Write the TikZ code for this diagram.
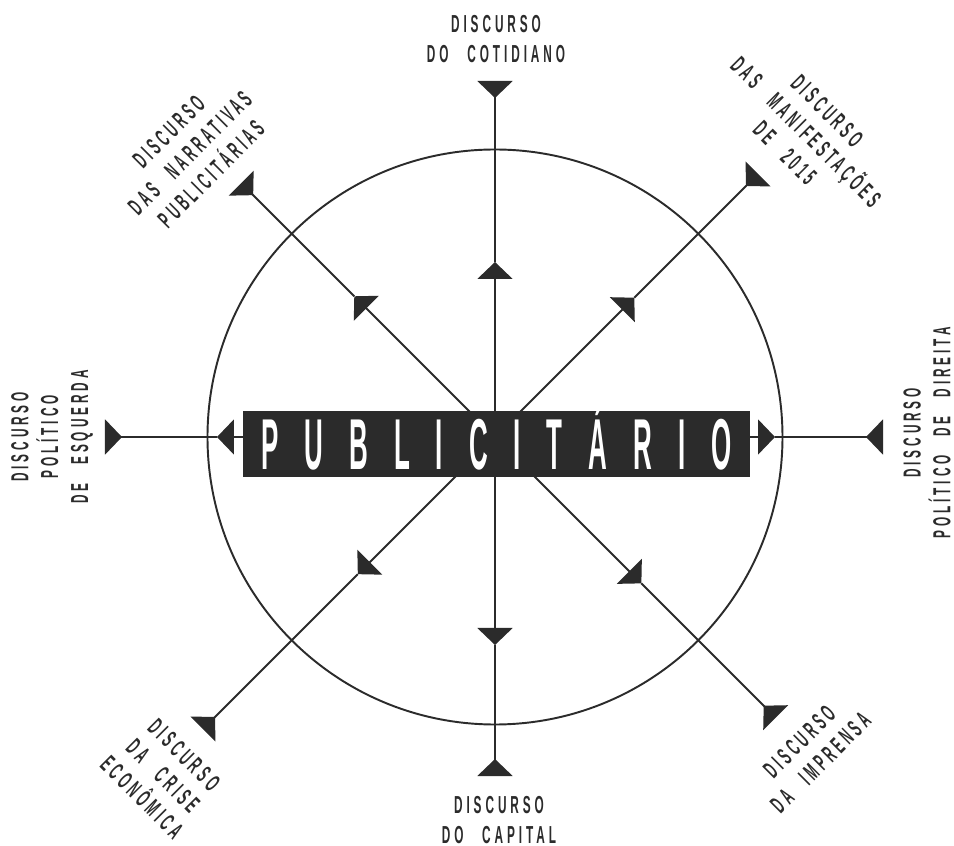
\documentclass[tikz,border=0pt]{standalone}
\usepackage{fontspec}
\setmainfont{Liberation Sans}
\newfontfamily\labelfont[FakeStretch=0.48,LetterSpace=16,WordSpace=2.6]{Liberation Sans}
\newfontfamily\titlefont[FakeStretch=0.36,LetterSpace=36]{Liberation Sans}
\usepackage{tikz}
\usetikzlibrary{arrows.meta}
\definecolor{inkgray}{HTML}{2B2B2B}
\tikzset{
  spoke/.style={
    draw=inkgray,
    line width=1.1pt,
    -{Triangle[length=3.4mm,width=7mm]}
  },
  spokeend/.style={
    draw=inkgray,
    line width=1.1pt,
    -{Triangle[reversed,length=3.4mm,width=7mm]}
  },
  discurso/.style={
    align=center,
    text=inkgray,
    inner sep=0pt,
    font=\labelfont\bfseries\fontsize{14}{17}\selectfont
  },
  titlebox/.style={
    fill=inkgray,
    text=white,
    minimum width=10.14cm,
    minimum height=1.32cm,
    inner sep=0pt,
    text height=29.5pt,
    text depth=0pt,
    font=\titlefont\bfseries\fontsize{41}{41}\selectfont
  }
}

\begin{document}
\begin{tikzpicture}
\useasboundingbox (-9.9,-8.18) rectangle (9.18,8.74);
\coordinate (c) at (0,0);
\draw[inkgray, line width=1.1pt] (c) circle (5.75);
% inner and outer ends of the spokes
\coordinate (nIn) at (90:3.5);    \coordinate (nOut) at (90:7.12);
\coordinate (neIn) at (45:3.94);  \coordinate (neOut) at (45:7.44);
\coordinate (eIn) at (0:5.6);     \coordinate (eOut) at (0:7.76);
\coordinate (seIn) at (-45:4.14); \coordinate (seOut) at (-45:7.94);
\coordinate (sIn) at (-90:4.16);  \coordinate (sOut) at (-90:6.78);
\coordinate (swIn) at (225:3.88); \coordinate (swOut) at (225:8.26);
\coordinate (wIn) at (180:5.56);  \coordinate (wOut) at (180:7.8);
\coordinate (nwIn) at (135:3.98); \coordinate (nwOut) at (135:7.18);
\draw[spoke] (c) -- (nIn);
\draw[spokeend] (nIn) -- (nOut);
\draw[spoke] (c) -- (neIn);
\draw[spokeend] (neIn) -- (neOut);
\draw[spoke] (c) -- (eIn);
\draw[spokeend] (eIn) -- (eOut);
\draw[spoke] (c) -- (seIn);
\draw[spokeend] (seIn) -- (seOut);
\draw[spoke] (c) -- (sIn);
\draw[spokeend] (sIn) -- (sOut);
\draw[spoke] (c) -- (swIn);
\draw[spokeend] (swIn) -- (swOut);
\draw[spoke] (c) -- (wIn);
\draw[spokeend] (wIn) -- (wOut);
\draw[spoke] (c) -- (nwIn);
\draw[spokeend] (nwIn) -- (nwOut);
\node[titlebox] (pub) at (0.03,-0.14) {PUBLICITÁRIO};
% labels
\node[discurso] (cotidiano) at (0.02,7.96) {DISCURSO\\DO COTIDIANO};
\node[discurso, rotate=-45] (manif) at (6.22,6.1) {DISCURSO\\DAS MANIFESTAÇÕES\\DE 2015};
\node[discurso, rotate=90] (direita) at (8.64,0.08) {DISCURSO\\POLÍTICO DE DIREITA};
\node[discurso, rotate=45] (imprensa) at (6.3,-6.3) {DISCURSO\\DA IMPRENSA};
\node[discurso] (capital) at (0.08,-7.66) {DISCURSO\\DO CAPITAL};
\node[discurso, rotate=-45] (crise) at (-6.64,-6.78) {DISCURSO\\DA CRISE\\ECONÔMICA};
\node[discurso, rotate=90] (esquerda) at (-8.86,0) {DISCURSO\\POLÍTICO\\DE ESQUERDA};
\node[discurso, rotate=45] (narrativas) at (-6.1,5.68) {DISCURSO\\DAS NARRATIVAS\\PUBLICITÁRIAS};
\end{tikzpicture}
\end{document}
